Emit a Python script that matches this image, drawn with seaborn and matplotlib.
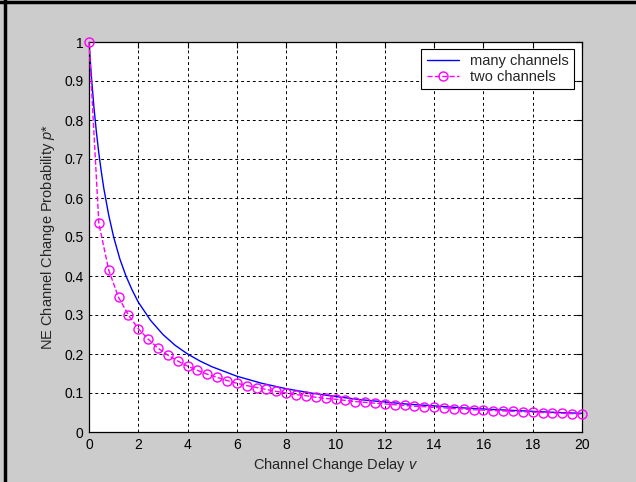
import matplotlib
matplotlib.use("Agg")
import matplotlib.pyplot as plt
import seaborn as sns
import pandas as pd
from matplotlib.lines import Line2D

# ---- data ----
many_x = [0, 0.1, 0.2, 0.3, 0.4, 0.5, 0.6, 0.8, 1.0, 1.25, 1.5, 1.75, 2.0, 2.5, 3.0, 3.5,
          4.0, 4.5, 5.0, 6.0, 7.0, 8.0, 9.0, 10.0, 11.0, 12.0, 13.0, 14.0, 15.0, 16.0,
          17.0, 18.0, 19.0, 20.0]
many_y = [1.0, 0.909, 0.833, 0.769, 0.714, 0.667, 0.625, 0.556, 0.500, 0.444, 0.400, 0.364,
          0.333, 0.286, 0.250, 0.222, 0.200, 0.182, 0.167, 0.143, 0.125, 0.111, 0.100, 0.091,
          0.083, 0.077, 0.071, 0.067, 0.0625, 0.059, 0.056, 0.053, 0.050, 0.048]

two_x = [0, 0.4, 0.8, 1.2, 1.6, 2.0, 2.4, 2.8, 3.2, 3.6, 4.0, 4.4, 4.8, 5.2, 5.6, 6.0, 6.4,
         6.8, 7.2, 7.6, 8.0, 8.4, 8.8, 9.2, 9.6, 10.0, 10.4, 10.8, 11.2, 11.6, 12.0, 12.4,
         12.8, 13.2, 13.6, 14.0, 14.4, 14.8, 15.2, 15.6, 16.0, 16.4, 16.8, 17.2, 17.6, 18.0,
         18.4, 18.8, 19.2, 19.6, 20.0]
two_y = [1.0, 0.535, 0.415, 0.345, 0.300, 0.265, 0.238, 0.215, 0.197, 0.182, 0.169, 0.158,
         0.148, 0.140, 0.132, 0.125, 0.119, 0.114, 0.109, 0.104, 0.100, 0.096, 0.093, 0.089,
         0.086, 0.084, 0.081, 0.078, 0.076, 0.074, 0.072, 0.070, 0.068, 0.066, 0.065, 0.063,
         0.062, 0.060, 0.059, 0.057, 0.056, 0.055, 0.054, 0.053, 0.052, 0.051, 0.050, 0.049,
         0.048, 0.047, 0.046]

x_ticks = [0, 2, 4, 6, 8, 10, 12, 14, 16, 18, 20]
y_ticks = [0, 0.1, 0.2, 0.3, 0.4, 0.5, 0.6, 0.7, 0.8, 0.9, 1]
y_tick_labels = ["0", "0.1", "0.2", "0.3", "0.4", "0.5", "0.6", "0.7", "0.8", "0.9", "1"]
series_names = ["many channels", "two channels"]

sns.set_style("white")
plt.rcParams["font.family"] = ["Liberation Sans", "DejaVu Sans"]
plt.rcParams["mathtext.fontset"] = "custom"
plt.rcParams["mathtext.it"] = "Liberation Sans:italic"
plt.rcParams["mathtext.rm"] = "Liberation Sans"

bg = "#cccccc"
fig = plt.figure(figsize=(6.36, 4.82), dpi=100, facecolor=bg)
ax = fig.add_axes([89 / 636, 1 - 432 / 482, (582 - 89) / 636, (432 - 42) / 482])
ax.set_facecolor("white")

df_many = pd.DataFrame({"v": many_x, "p": many_y})
df_two = pd.DataFrame({"v": two_x, "p": two_y})

sns.lineplot(data=df_many, x="v", y="p", ax=ax, color="#0000ff", lw=1.0,
             estimator=None, sort=False)
sns.lineplot(data=df_two, x="v", y="p", ax=ax, color="#ff00ff", lw=1.0,
             linestyle="--", marker="o", markersize=6.5, markerfacecolor="none",
             markeredgecolor="#ff00ff", markeredgewidth=1.0,
             estimator=None, sort=False, clip_on=False, zorder=5)

ax.set_xlim(0, 20)
ax.set_ylim(0, 1)
ax.set_xticks(x_ticks)
ax.set_xticklabels([str(t) for t in x_ticks])
ax.set_yticks(y_ticks)
ax.set_yticklabels(y_tick_labels)
ax.tick_params(direction="in", length=4, width=0.8, top=True, right=True,
               labelsize=10, colors="black", pad=4)
ax.grid(True, color="black", linestyle=(0, (3, 3)), linewidth=0.7)
for s in ax.spines.values():
    s.set_visible(True)
    s.set_color("black")
    s.set_linewidth(0.9)

ax.set_xlabel("Channel Change Delay $\\it{v}$", fontsize=10.5, labelpad=3)
ax.set_ylabel("NE Channel Change Probability $\\it{p}$*", fontsize=10.5, labelpad=5)

handles = [
    Line2D([], [], color="#0000ff", lw=1.0),
    Line2D([], [], color="#ff00ff", lw=1.0, linestyle="--", marker="o",
           markersize=6.5, markerfacecolor="none", markeredgecolor="#ff00ff"),
]
leg = ax.legend(handles, series_names, loc="upper right",
                bbox_to_anchor=(0.984, 0.982), borderaxespad=0, fontsize=10.5,
                frameon=True, fancybox=False, framealpha=1, edgecolor="black",
                handlelength=2.2, borderpad=0.35, labelspacing=0.15)
leg.get_frame().set_linewidth(0.8)

# figure border lines (top and left)
fig.add_artist(Line2D([0, 1], [0.996, 0.996], transform=fig.transFigure, color="black", lw=2.5))
fig.add_artist(Line2D([5 / 636, 5 / 636], [0, 1], transform=fig.transFigure, color="black", lw=2.5))

fig.savefig("out.png", dpi=100, facecolor=bg)
